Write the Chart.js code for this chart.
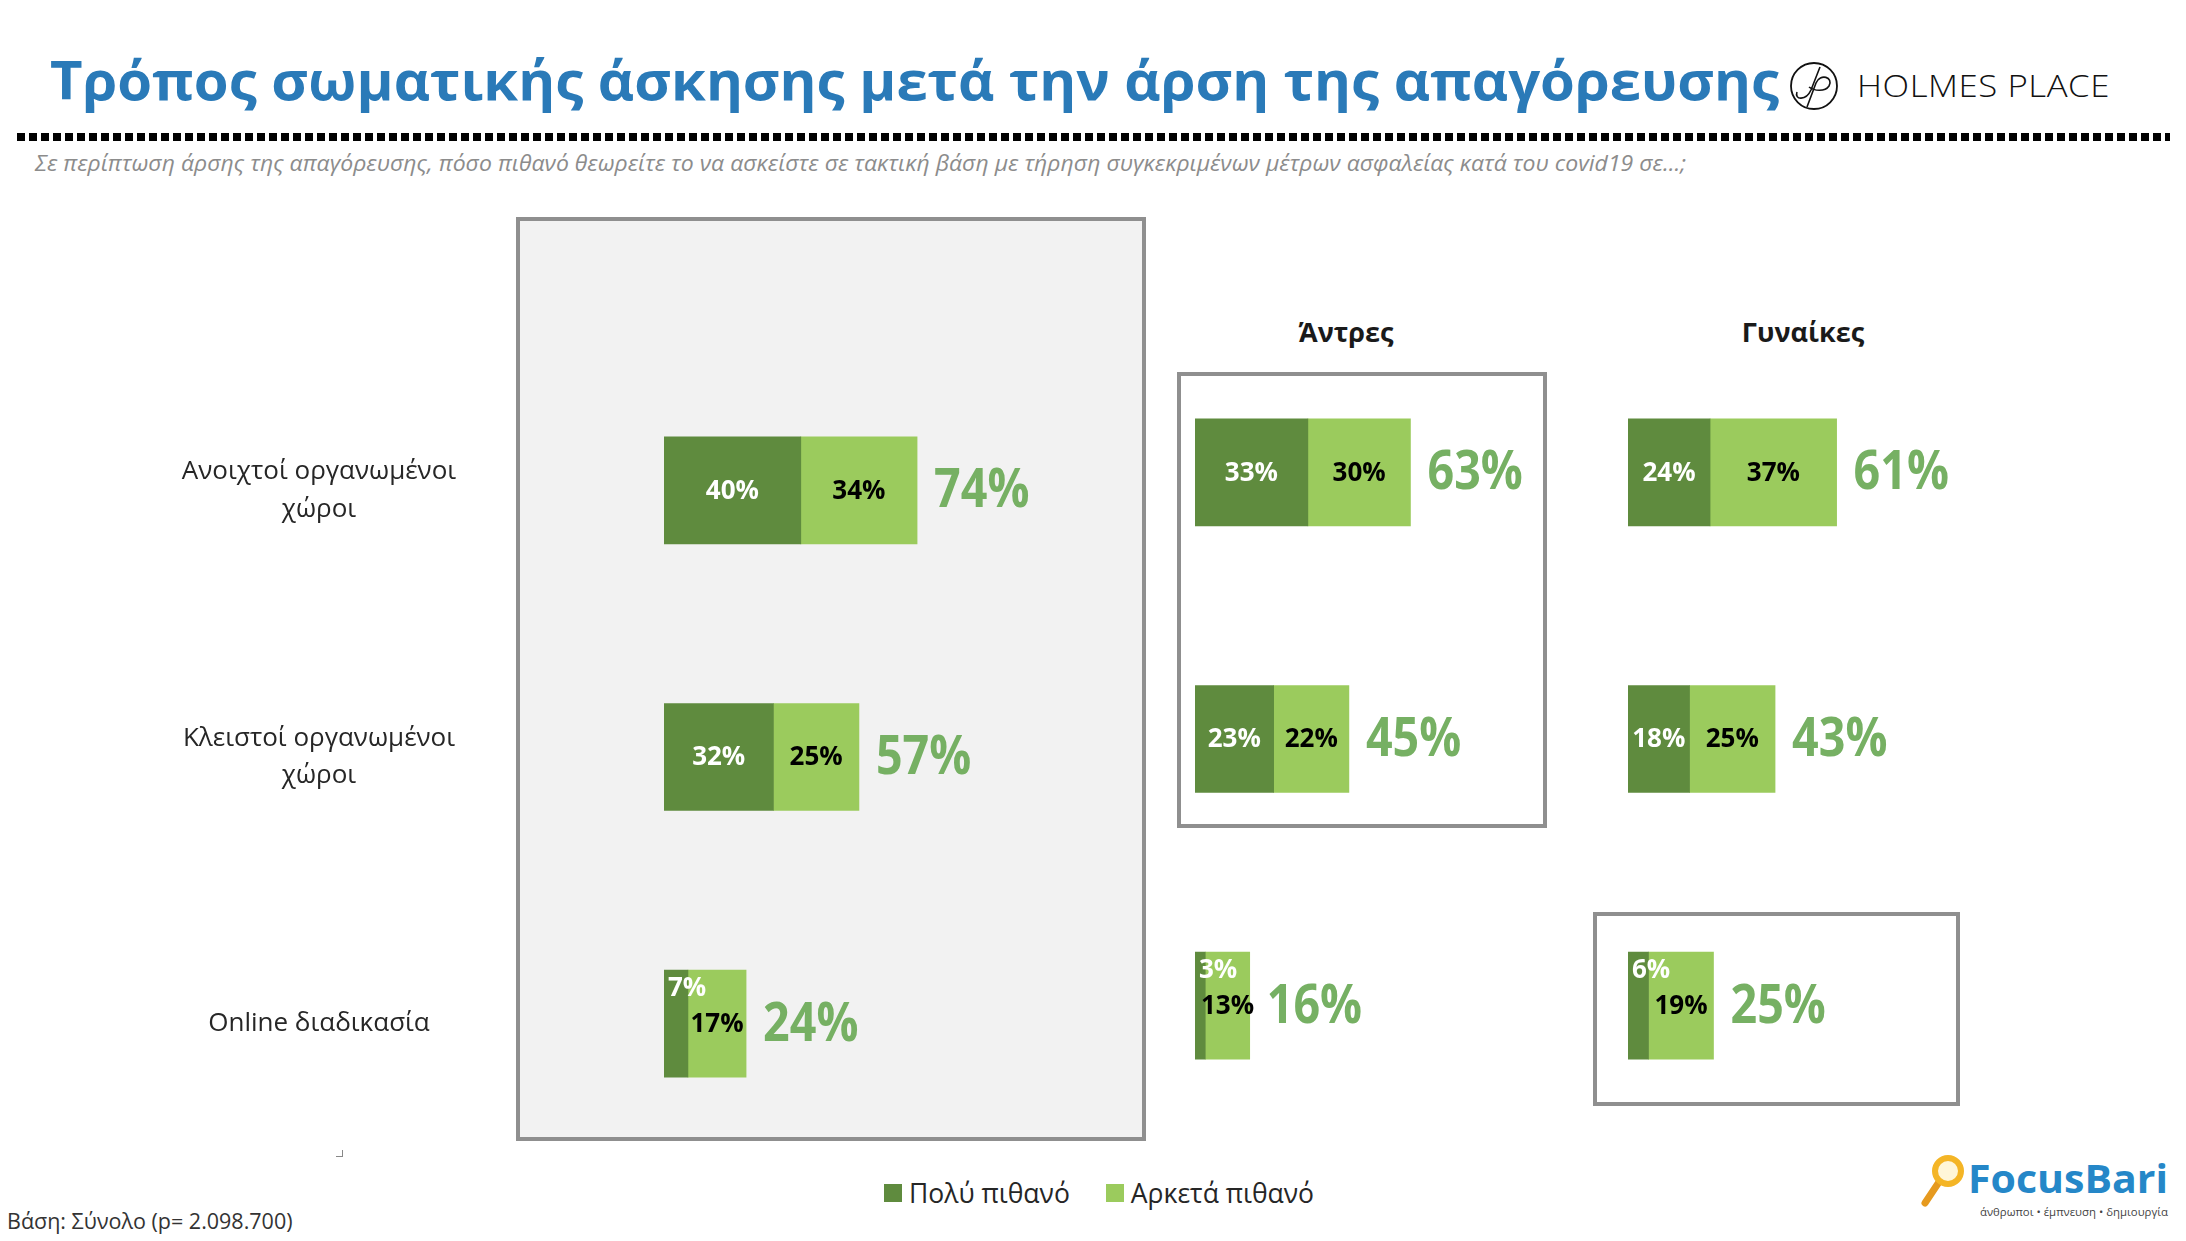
<!DOCTYPE html>
<html lang="el">
<head>
<meta charset="utf-8">
<title>Τρόπος σωματικής άσκησης μετά την άρση της απαγόρευσης</title>
<script src="https://cdn.jsdelivr.net/npm/chart.js@4.4.1/dist/chart.umd.min.js"></script>
<style>
  html, body { margin: 0; padding: 0; background: #fff; }
  #page { position: relative; width: 2186px; height: 1241px; overflow: hidden; font-family: "Open Sans", sans-serif; color: #262626; }
  .abs { position: absolute; white-space: nowrap; line-height: 1; }
  #title { left: 50px; top: 52px; font-size: 54px; font-weight: 700; color: #2A7AB8; transform-origin: 0 0; }
  #holmes { left: 1857px; top: 70px; font-size: 31px; font-weight: 300; color: #111; letter-spacing: 0.5px; transform-origin: 0 0; }
  #dots { left: 17px; top: 133px; width: 2153px; height: 8px; background: repeating-linear-gradient(to right, #000 0 8px, transparent 8px 12px); }
  #subtitle { left: 35px; top: 153px; font-size: 21px; font-style: italic; color: #8C8C8C; transform-origin: 0 0; }
  .box { position: absolute; box-sizing: border-box; border: 4px solid #8F8F8F; }
  #boxTotal { left: 516px; top: 217px; width: 630px; height: 924px; background: #F2F2F2; }
  #boxMen { left: 1177px; top: 372px; width: 370px; height: 456px; background: #fff; }
  #boxWomen { left: 1593px; top: 912px; width: 367px; height: 194px; background: #fff; }
  .head { font-size: 27px; font-weight: 700; color: #1a1a1a; transform: translateX(-50%); }
  canvas { position: absolute; }
  #legend { left: 884px; top: 1180px; font-size: 26.5px; display: flex; align-items: center; }
  #legend .sw { width: 18px; height: 18px; margin-right: 7px; }
  #legend .item { display: flex; align-items: center; margin-right: 36px; }
  #foot { left: 7px; top: 1210px; font-size: 21.5px; color: #333; }
  #corner { position: absolute; left: 336px; top: 1150px; width: 6px; height: 6px; border-right: 1px solid #888; border-bottom: 1px solid #888; }
</style>
</head>
<body>
<div id="page">
  <div id="title" class="abs"></div>
  <svg class="abs" style="left:1789px;top:61px" width="52" height="52" viewBox="0 0 52 52">
    <circle cx="25" cy="25" r="23" fill="none" stroke="#111" stroke-width="1.8"/>
    <path d="M8 31 C 5 39, 17 40, 22 29 L 31 6" fill="none" stroke="#111" stroke-width="1.6"/>
    <path d="M18 46 L 27 22 C 31 12, 45 16, 40 25 C 36 31, 25 30, 20 26" fill="none" stroke="#111" stroke-width="1.6"/>
  </svg>
  <div id="holmes" class="abs">HOLMES PLACE</div>
  <div id="dots" class="abs"></div>
  <div id="subtitle" class="abs"></div>

  <div id="boxTotal" class="box"></div>
  <div id="boxMen" class="box"></div>
  <div id="boxWomen" class="box"></div>

  <div id="headMen" class="abs head" style="left:1346px;top:318px"></div>
  <div id="headWomen" class="abs head" style="left:1803px;top:318px"></div>

  <canvas id="chartTotal" width="1140" height="800" style="left:0px;top:357px"></canvas>
  <canvas id="chartMen" width="430" height="800" style="left:1195px;top:339px"></canvas>
  <canvas id="chartWomen" width="430" height="800" style="left:1628px;top:339px"></canvas>

  <div id="corner"></div>
  <div id="legend" class="abs"></div>
  <div id="foot" class="abs"></div>

  <svg class="abs" style="left:1910px;top:1145px" width="270" height="90" viewBox="0 0 270 90">
    <line x1="29" y1="37" x2="15" y2="58" stroke="#E69A1F" stroke-width="7" stroke-linecap="round"/>
    <circle cx="38" cy="26" r="13" fill="#FFF6D8" stroke="#F4B526" stroke-width="6"/>
    <text x="58" y="48" font-family="Open Sans" font-weight="700" font-size="39" fill="#2587C8" textLength="200" lengthAdjust="spacingAndGlyphs">FocusBari</text>
    <text x="70" y="71" font-family="Open Sans" font-size="11" fill="#444" textLength="188" lengthAdjust="spacingAndGlyphs">άνθρωποι • έμπνευση • δημιουργία</text>
  </svg>
</div>

<script>
const titleText = "Τρόπος σωματικής άσκησης μετά την άρση της απαγόρευσης";
const subtitleText = "Σε περίπτωση άρσης της απαγόρευσης, πόσο πιθανό θεωρείτε το να ασκείστε σε τακτική βάση με τήρηση συγκεκριμένων μέτρων ασφαλείας κατά του covid19 σε...;";
const categories = [["Ανοιχτοί οργανωμένοι", "χώροι"], ["Κλειστοί οργανωμένοι", "χώροι"], "Online διαδικασία"];
const seriesNames = ["Πολύ πιθανό", "Αρκετά πιθανό"];
const groupTitles = ["Άντρες", "Γυναίκες"];
const footText = "Βάση: Σύνολο (p= 2.098.700)";

// Σύνολο
const totalVery = [40, 32, 7];
const totalFairly = [34, 25, 17];
// Άντρες
const menVery = [33, 23, 3];
const menFairly = [30, 22, 13];
// Γυναίκες
const womenVery = [24, 18, 6];
const womenFairly = [37, 25, 19];

const DARK = "#5F8B3E";
const LIGHT = "#9BCB5D";
const TOTAL_COLOR = "#76B063";

document.getElementById("title").textContent = titleText;
document.getElementById("subtitle").textContent = subtitleText;
document.getElementById("headMen").textContent = groupTitles[0];
document.getElementById("headWomen").textContent = groupTitles[1];
document.getElementById("foot").textContent = footText;

const legend = document.getElementById("legend");
[DARK, LIGHT].forEach((c, i) => {
    const item = document.createElement("div");
    item.className = "item";
    const sw = document.createElement("div");
    sw.className = "sw";
    sw.style.background = c;
    const t = document.createElement("span");
    t.textContent = seriesNames[i];
    item.appendChild(sw);
    item.appendChild(t);
    legend.appendChild(item);
});

function fitWidth(id, w) {
    const el = document.getElementById(id);
    const r = el.getBoundingClientRect().width;
    el.style.transform = "scaleX(" + (w / r) + ")";
}

// values inside the bars + the total to the right
const barLabels = {
    id: "barLabels",
    afterDatasetsDraw(chart) {
        const ctx = chart.ctx;
        ctx.save();
        ctx.textBaseline = "middle";
        chart.data.datasets.forEach((ds, di) => {
            const meta = chart.getDatasetMeta(di);
            meta.data.forEach((bar, i) => {
                const txt = ds.data[i] + "%";
                ctx.font = 'bold 26px "Open Sans"';
                ctx.fillStyle = di === 0 ? "#fff" : "#000";
                const w = ctx.measureText(txt).width;
                const left = Math.min(bar.x, bar.base);
                const width = Math.abs(bar.x - bar.base);
                if (di === 0 && w + 6 > width) {
                    ctx.textAlign = "left";
                    ctx.fillText(txt, left + 4, bar.y - 35);
                } else {
                    ctx.textAlign = "center";
                    ctx.fillText(txt, left + width / 2, bar.y + 1);
                }
            });
        });
        const last = chart.getDatasetMeta(chart.data.datasets.length - 1);
        last.data.forEach((bar, i) => {
            const sum = chart.data.datasets.reduce((s, d) => s + d.data[i], 0);
            ctx.save();
            ctx.translate(bar.x + 17, bar.y + 2);
            ctx.scale(0.88, 1);
            ctx.font = 'bold 53px "Open Sans"';
            ctx.fillStyle = TOTAL_COLOR;
            ctx.textAlign = "left";
            ctx.fillText(sum + "%", 0, 0);
            ctx.restore();
        });
        ctx.restore();
    }
};

const LABEL_AREA = 664;   // width kept for the category labels
const LABEL_CENTER = 319; // x centre of the category labels

function makeChart(id, very, fairly, withLabels, padRight) {
    const yAxis = {
        stacked: true,
        display: withLabels,
        grid: { display: false, drawTicks: false },
        border: { display: false },
        ticks: { color: "#262626", crossAlign: "center", font: { family: "Open Sans", size: 26, lineHeight: 1.45 } }
    };
    if (withLabels) {
        yAxis.afterFit = function (axis) {
            axis.width = LABEL_AREA;
            axis.paddingTop = 0;
            axis.paddingBottom = 0;
            const widest = axis._getLabelSizes().widest.width;
            axis.options.ticks.padding = LABEL_AREA - LABEL_CENTER - widest / 2;
        };
    }
    return new Chart(document.getElementById(id), {
        type: "bar",
        data: {
            labels: categories,
            datasets: [
                { label: seriesNames[0], data: very, backgroundColor: DARK, barThickness: 107 },
                { label: seriesNames[1], data: fairly, backgroundColor: LIGHT, barThickness: 107 }
            ]
        },
        options: {
            indexAxis: "y",
            responsive: false,
            animation: false,
            devicePixelRatio: 1,
            layout: { padding: { left: 0, right: padRight, top: 0, bottom: 0 } },
            plugins: { legend: { display: false }, tooltip: { enabled: false } },
            scales: {
                x: { stacked: true, display: false, min: 0, max: 100 },
                y: yAxis
            }
        },
        plugins: [barLabels]
    });
}

document.fonts.ready.then(() => {
    fitWidth("title", 1729);
    fitWidth("subtitle", 1651);
    fitWidth("holmes", 253);
    makeChart("chartTotal", totalVery, totalFairly, true, 1140 - LABEL_AREA - 342);
    makeChart("chartMen", menVery, menFairly, false, 430 - 342);
    makeChart("chartWomen", womenVery, womenFairly, false, 430 - 342);
});
</script>
</body>
</html>
